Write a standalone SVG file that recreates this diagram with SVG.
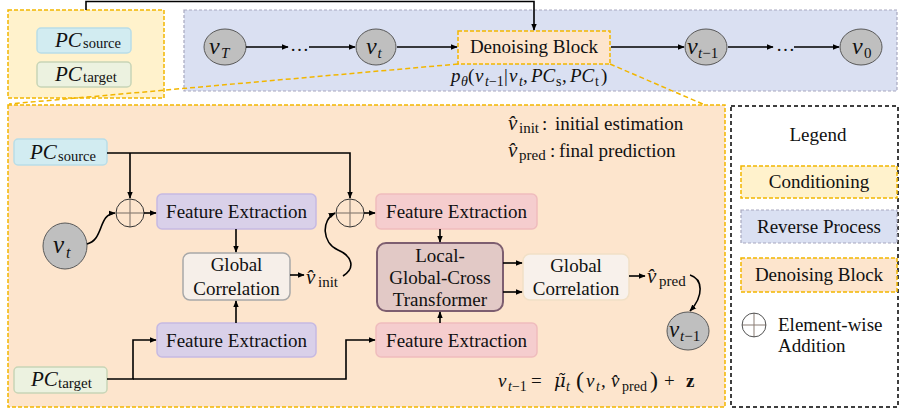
<svg xmlns="http://www.w3.org/2000/svg" width="902" height="414" viewBox="0 0 902 414">
<defs>
<marker id="ah" viewBox="0 0 10 10" refX="9" refY="5" markerWidth="7" markerHeight="7" markerUnits="userSpaceOnUse" orient="auto"><path d="M0,1 L10,5 L0,9 z" fill="#000"/></marker>
<g id="plus">
<line x1="-14" y1="0" x2="14" y2="0" stroke="#8c7f76" stroke-width="1.2"/>
<line x1="0" y1="-14" x2="0" y2="14" stroke="#8c7f76" stroke-width="1.2"/>
<circle r="14" fill="none" stroke="#333" stroke-width="1"/>
</g>
</defs>
<style>
text{font-family:"Liberation Serif","Times New Roman",serif;fill:#111;font-size:19px}
.c{text-anchor:middle}
.it{font-style:italic}
.conn path{fill:none;stroke:#000;stroke-width:1.6}
.arr{marker-end:url(#ah)}
.vc{fill:#bfbfbf;stroke:#595959;stroke-width:1}
.fep{fill:#d9d0e9;stroke:#c6b9e2;stroke-width:1.5}
.fer{fill:#f5cdce;stroke:#efbcbd;stroke-width:1.5}
.cond{fill:#fff2cc;stroke:#f2b600;stroke-width:1.5;stroke-dasharray:4 2}
.rev{fill:#dae0f2;stroke:#a8a8bf;stroke-width:1.2;stroke-dasharray:3 2}
.den{fill:#fde5cd;stroke:#f2b600;stroke-width:1.5;stroke-dasharray:4 2}
.zoom{fill:none;stroke:#f2b600;stroke-width:1.5;stroke-dasharray:5 3}
</style>
<rect width="902" height="414" fill="#fff"/>

<!-- containers -->
<g id="conditioning">
<rect class="cond" x="8" y="10" width="156" height="88"/>
</g>
<g id="reverse-process">
<rect class="rev" x="184" y="10" width="713" height="81"/>
</g>
<g id="denoising-detail">
<rect class="den" x="8" y="105" width="717" height="302"/>
</g>
<g id="legend">
<rect x="731" y="106" width="167" height="301" fill="#fff" stroke="#000" stroke-width="1.5" stroke-dasharray="4 3"/>
<text class="c" x="818" y="141">Legend</text>
<rect class="cond" x="741" y="166" width="156" height="32"/>
<text class="c" x="819" y="188">Conditioning</text>
<rect class="rev" x="741" y="210" width="156" height="33"/>
<text class="c" x="819" y="233">Reverse Process</text>
<rect class="den" x="741" y="258" width="156" height="34"/>
<text class="c" x="819" y="281">Denoising Block</text>
<use href="#plus" transform="translate(754 325) scale(0.85)"/>
<text x="778" y="331">Element-wise</text>
<text x="778" y="352">Addition</text>
</g>

<!-- top conditioning nodes -->
<g id="pc-source-top">
<rect x="37" y="28" width="94" height="25" rx="4" fill="#d2ecf1" stroke="#b9dde7" stroke-width="1.5"/>
<text y="47"><tspan x="55" class="it" font-size="21">PC</tspan><tspan x="83" y="48" font-size="14.5">source</tspan></text>
</g>
<g id="pc-target-top">
<rect x="37" y="62" width="94" height="25" rx="4" fill="#ecf2e0" stroke="#c8d5b6" stroke-width="1.5"/>
<text y="81"><tspan x="55" class="it" font-size="21">PC</tspan><tspan x="83" y="82" font-size="15">target</tspan></text>
</g>

<!-- reverse process nodes -->
<g id="vT">
<ellipse class="vc" cx="225" cy="47" rx="21" ry="18"/>
<text y="54"><tspan x="209" class="it" font-size="24">v</tspan><tspan x="221" y="58" class="it" font-size="15">T</tspan></text>
</g>
<g id="dots1"><text x="290" y="51" font-size="18">…</text></g>
<g id="vt">
<ellipse class="vc" cx="376" cy="47" rx="20" ry="18"/>
<text y="54"><tspan x="366" class="it" font-size="24">v</tspan><tspan x="377.5" y="58" class="it" font-size="15">t</tspan></text>
</g>
<g id="denoising-block">
<rect class="den" x="458" y="31" width="152" height="33"/>
<text class="c" x="534" y="53" font-size="18.5">Denoising Block</text>
</g>
<g id="p-theta">
<text y="82" font-size="20"><tspan x="451" class="it">p</tspan><tspan x="461" y="86" class="it" font-size="14">θ</tspan><tspan x="468" y="82">(</tspan><tspan x="475" class="it">v</tspan><tspan x="485" y="86" font-size="14"><tspan class="it">t</tspan>−1</tspan><tspan x="504" y="82">|</tspan><tspan x="509" class="it">v</tspan><tspan x="519" y="86" class="it" font-size="14">t</tspan><tspan x="523" y="82">,</tspan><tspan x="531" class="it">PC</tspan><tspan x="556" y="86" font-size="14">s</tspan><tspan x="562" y="82">,</tspan><tspan x="570" class="it">PC</tspan><tspan x="595" y="86" font-size="14">t</tspan><tspan x="601" y="82">)</tspan></text>
</g>
<g id="vt-1">
<ellipse class="vc" cx="706" cy="47" rx="21" ry="18"/>
<text y="54"><tspan x="687" class="it" font-size="24">v</tspan><tspan x="698" y="58" font-size="15"><tspan class="it">t</tspan>−1</tspan></text>
</g>
<g id="dots2"><text x="776" y="51" font-size="18">…</text></g>
<g id="v0">
<ellipse class="vc" cx="861" cy="47" rx="21" ry="18"/>
<text y="54"><tspan x="852" class="it" font-size="24">v</tspan><tspan x="864" y="58" font-size="15">0</tspan></text>
</g>

<!-- zoom lines -->
<g id="zoom-lines">
<path class="zoom" d="M458,64 L9,104"/>
<path class="zoom" d="M610,64 L705,105"/>
</g>

<!-- denoising block detail -->
<g id="pc-source">
<rect x="14" y="139" width="93" height="26" rx="4" fill="#d2ecf1" stroke="#b9dde7" stroke-width="1.5"/>
<text y="159"><tspan x="30" class="it" font-size="21">PC</tspan><tspan x="58" y="161" font-size="14.5">source</tspan></text>
</g>
<g id="pc-target">
<rect x="14" y="367" width="93" height="26" rx="4" fill="#ecf2e0" stroke="#c8d5b6" stroke-width="1.5"/>
<text y="386"><tspan x="31" class="it" font-size="21">PC</tspan><tspan x="58" y="388" font-size="15">target</tspan></text>
</g>
<g id="vt-in">
<ellipse class="vc" cx="65" cy="246" rx="22" ry="23"/>
<text y="253"><tspan x="53" class="it" font-size="25">v</tspan><tspan x="66" y="258" class="it" font-size="16">t</tspan></text>
</g>
<g id="plus1"><use href="#plus" transform="translate(130 213)"/></g>
<g id="plus2"><use href="#plus" transform="translate(350 213)"/></g>
<g id="fe1">
<rect class="fep" x="157" y="194" width="159" height="35" rx="5"/>
<text class="c" x="236.5" y="218" font-size="19.5">Feature Extraction</text>
</g>
<g id="gc1">
<rect x="183" y="253" width="107" height="47" rx="7" fill="#f6efe9" stroke="#a8a8a8" stroke-width="1.5"/>
<text class="c" x="236.5" y="271">Global</text>
<text class="c" x="236.5" y="295">Correlation</text>
</g>
<g id="v-init">
<text y="284"><tspan x="306" class="it" font-size="21">v̂</tspan><tspan x="318" y="287" font-size="15">init</tspan></text>
</g>
<g id="fe3">
<rect class="fep" x="157" y="323" width="159" height="34" rx="5"/>
<text class="c" x="236.5" y="347" font-size="19.5">Feature Extraction</text>
</g>
<g id="fe2">
<rect class="fer" x="376" y="194" width="161" height="35" rx="5"/>
<text class="c" x="456.5" y="218" font-size="19.5">Feature Extraction</text>
</g>
<g id="lgct">
<rect x="377" y="243" width="126" height="68" rx="9" fill="#e2c9c6" stroke="#7d5e70" stroke-width="2"/>
<text class="c" x="440" y="262">Local-</text>
<text class="c" x="440" y="284">Global-Cross</text>
<text class="c" x="440" y="306">Transformer</text>
</g>
<g id="fe4">
<rect class="fer" x="376" y="323" width="161" height="34" rx="5"/>
<text class="c" x="456.5" y="347" font-size="19.5">Feature Extraction</text>
</g>
<g id="gc2">
<rect x="523" y="254" width="106" height="46" rx="7" fill="#f8f1eb" stroke="#f1e0c6" stroke-width="1.5"/>
<text class="c" x="576" y="272">Global</text>
<text class="c" x="576" y="295">Correlation</text>
</g>
<g id="v-pred">
<text y="283"><tspan x="647" class="it" font-size="21">v̂</tspan><tspan x="659" y="286" font-size="15">pred</tspan></text>
</g>
<g id="vt-1-in">
<ellipse class="vc" cx="688" cy="331" rx="21" ry="19"/>
<text y="337"><tspan x="669" class="it" font-size="23">v</tspan><tspan x="680" y="341" font-size="15"><tspan class="it">t</tspan>−1</tspan></text>
</g>
<g id="notes">
<text y="130"><tspan x="508" class="it" font-size="21">v̂</tspan><tspan x="519" y="133" font-size="15">init</tspan><tspan x="542" y="130">:</tspan><tspan x="555" y="130">initial estimation</tspan></text>
<text y="157"><tspan x="508" class="it" font-size="21">v̂</tspan><tspan x="519" y="160" font-size="15">pred</tspan><tspan x="550" y="157">:</tspan><tspan x="559" y="157">final prediction</tspan></text>
</g>
<g id="formula">
<text y="387" font-size="21"><tspan x="498" class="it">v</tspan><tspan x="508" y="391" font-size="14"><tspan class="it">t</tspan>−1</tspan><tspan x="531" y="387">=</tspan><tspan x="554" class="it" font-family="DejaVu Serif" font-size="18">μ̃</tspan><tspan x="566" y="391" class="it" font-size="14">t</tspan><tspan x="576" y="388" font-size="24">(</tspan><tspan x="586" y="387" class="it">v</tspan><tspan x="596" y="391" class="it" font-size="14">t</tspan><tspan x="601" y="387">,</tspan><tspan x="611" class="it">v̂</tspan><tspan x="622" y="391" font-size="14">pred</tspan><tspan x="650" y="388" font-size="24">)</tspan><tspan x="664" y="387">+</tspan><tspan x="686" font-weight="bold">z</tspan></text>
</g>

<!-- connectors -->
<g id="connectors" class="conn">
<path d="M86,10 V1.5 H534 V30" class="arr"/>
<path d="M246,47 H288" class="arr"/>
<path d="M309,47 H355" class="arr"/>
<path d="M397,47 H457" class="arr"/>
<path d="M611,47 H684" class="arr"/>
<path d="M728,47 H773" class="arr"/>
<path d="M794,47 H839" class="arr"/>
<path d="M107,153 H350 V198" class="arr"/>
<path d="M130,153 V198" class="arr"/>
<path d="M87,244 C104,240 98,214 115,213" class="arr"/>
<path d="M144,213 H156" class="arr"/>
<path d="M236,229 V252" class="arr"/>
<path d="M290,275 H304" class="arr"/>
<path d="M343,276 C356,268 352,256 338,250 C322,243 321,220 335,213" class="arr"/>
<path d="M364,213 H375" class="arr"/>
<path d="M440,229 V242" class="arr"/>
<path d="M503,263 H522" class="arr"/>
<path d="M503,292 H522" class="arr"/>
<path d="M629,276 H645" class="arr"/>
<path d="M690,275 C703,279 704,296 690,311" class="arr"/>
<path d="M107,379 H133 V340 H156" class="arr"/>
<path d="M133,379 H346 V340 H375" class="arr"/>
<path d="M236,323 V301" class="arr"/>
<path d="M440,323 V312" class="arr"/>
</g>
</svg>
